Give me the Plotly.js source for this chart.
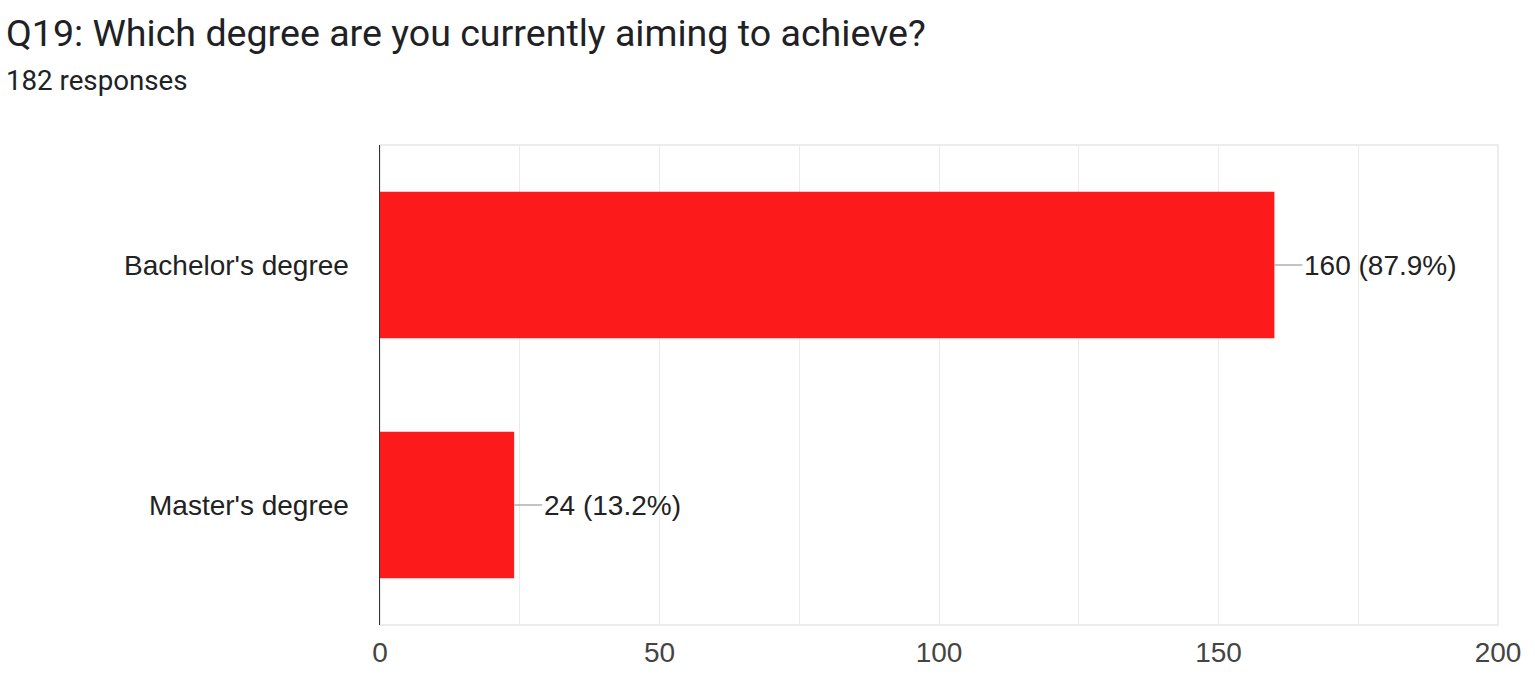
<!DOCTYPE html>
<html>
<head>
<meta charset="utf-8">
<script src="https://cdn.plot.ly/plotly-3.0.1.min.js"></script>
<style>
  html, body { margin: 0; padding: 0; background: #fff; }
  #chart { width: 1535px; height: 675px; }
</style>
</head>
<body>
<div id="chart"></div>
<script>
var categories = ["Bachelor's degree", "Master's degree"];
var counts = [160, 24];
var percents = ["87.9%", "13.2%"];
var tickValues = [0, 50, 100, 150, 200];

var trace = {
  type: 'bar',
  orientation: 'h',
  y: categories,
  x: counts,
  width: 0.61,
  marker: { color: '#fd1a1a' },
  hoverinfo: 'none'
};

var chartFont = 'Liberation Sans, Arial, sans-serif';

var labels = categories.map(function (c, i) {
  return {
    x: counts[i], y: c, xref: 'x', yref: 'y',
    text: counts[i] + ' (' + percents[i] + ')',
    showarrow: true, arrowhead: 0, arrowwidth: 1, arrowcolor: '#888',
    ax: 28, ay: 0, xanchor: 'left',
    font: { family: chartFont, size: 28, color: '#222' }
  };
});

labels.push({
  xref: 'paper', yref: 'paper', x: -0.336, y: 1.233, xanchor: 'left', yanchor: 'middle',
  text: 'Q19: Which degree are you currently aiming to achieve?', showarrow: false,
  font: { family: 'Roboto, sans-serif', size: 37.6, color: '#202124' }
});
labels.push({
  xref: 'paper', yref: 'paper', x: -0.336, y: 1.135, xanchor: 'left', yanchor: 'middle',
  text: '182 responses', showarrow: false,
  font: { family: 'Roboto, sans-serif', size: 27.7, color: '#202124' }
});

var layout = {
  width: 1535, height: 675,
  margin: { l: 380, r: 37, t: 145, b: 50 },
  paper_bgcolor: '#fff', plot_bgcolor: '#fff',
  showlegend: false,
  xaxis: {
    range: [0, 200], tickvals: tickValues, fixedrange: true,
    showgrid: true, gridcolor: '#ebebeb', gridwidth: 1,
    minor: { dtick: 25, showgrid: true, gridcolor: '#ebebeb', gridwidth: 1 },
    zeroline: false, showline: false, ticks: '',
    tickfont: { family: chartFont, size: 28, color: '#444' },
    ticklabelstandoff: 8
  },
  yaxis: {
    autorange: 'reversed', fixedrange: true,
    showline: true, linecolor: '#333', linewidth: 1.5,
    showgrid: false, zeroline: false, ticks: '',
    tickfont: { family: chartFont, size: 28, color: '#222' },
    ticklabelstandoff: 24
  },
  shapes: [{
    type: 'rect', xref: 'paper', yref: 'paper', x0: 0, x1: 1, y0: 0, y1: 1,
    line: { color: '#e6e6e6', width: 1.5 }, layer: 'below'
  }],
  annotations: labels
};

Plotly.newPlot('chart', [trace], layout, { displayModeBar: false, staticPlot: true });
</script>
</body>
</html>
